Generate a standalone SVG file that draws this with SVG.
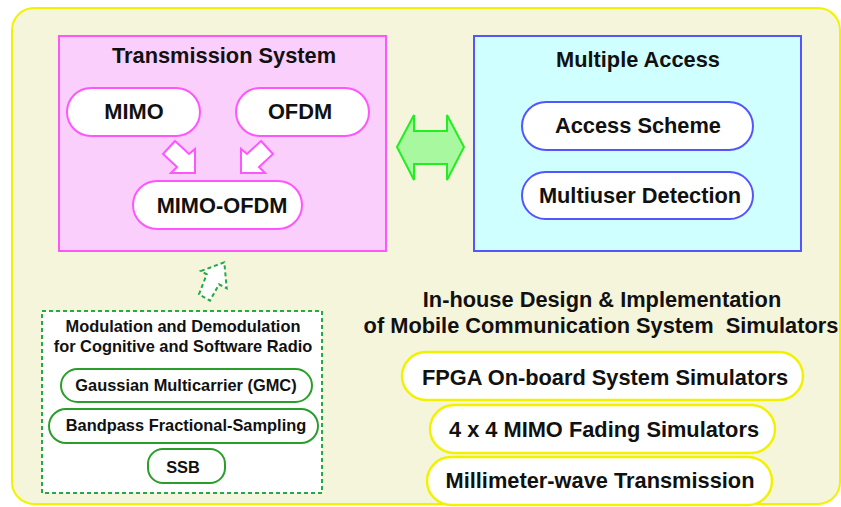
<svg xmlns="http://www.w3.org/2000/svg" width="841" height="507" viewBox="0 0 841 507">
<style>
text{font-family:"Liberation Sans",Arial,Helvetica,sans-serif;font-weight:bold;fill:#111;text-anchor:middle}
.pk{fill:#fff;stroke:#ff55ff;stroke-width:2}
.bl{fill:#fff;stroke:#5555ff;stroke-width:2}
.gr{fill:#fff;stroke:#2a9e2a;stroke-width:2}
.yl{fill:#fff;stroke:#f2f200;stroke-width:2.5}
.t21{font-size:21.8px}
.t16{font-size:16.4px}
</style>
<rect x="12" y="8" width="828" height="496" rx="22" fill="#f5f5dc" stroke="#f2f200" stroke-width="2"/>

<g id="transmission-system">
<rect x="59" y="36" width="327" height="215" fill="#fbcffb" stroke="#ff55ff" stroke-width="2"/>
<text class="t21" x="224" y="63">Transmission System</text>
</g>
<g id="mimo">
<rect class="pk" x="67" y="88" width="133" height="48" rx="24"/>
<text class="t21" x="134" y="119">MIMO</text>
</g>
<g id="ofdm">
<rect class="pk" x="236" y="88" width="133" height="48" rx="24"/>
<text class="t21" x="300" y="119">OFDM</text>
</g>
<g id="mimo-ofdm">
<rect class="pk" x="133" y="181" width="169" height="48" rx="24"/>
<text class="t21" x="222" y="213">MIMO-OFDM</text>
</g>

<g id="multiple-access">
<rect x="474" y="36" width="327" height="215" fill="#d0ffff" stroke="#5555ff" stroke-width="2"/>
<text class="t21" x="638" y="67">Multiple Access</text>
</g>
<g id="access-scheme">
<rect class="bl" x="522" y="102" width="231" height="48" rx="24"/>
<text class="t21" x="638" y="133">Access Scheme</text>
</g>
<g id="multiuser-detection">
<rect class="bl" x="522" y="172" width="231" height="47" rx="23.5"/>
<text class="t21" x="640" y="203">Multiuser Detection</text>
</g>

<g id="modulation">
<rect x="42" y="311" width="280" height="182" fill="#fff" stroke="#22aa44" stroke-width="2" stroke-dasharray="4,3"/>
<text class="t16" x="183" y="332">Modulation and Demodulation</text>
<text class="t16" x="183" y="352">for Cognitive and Software Radio</text>
</g>
<g id="gmc">
<rect class="gr" x="61" y="369" width="251" height="33" rx="16.5"/>
<text class="t16" x="186" y="391">Gaussian Multicarrier (GMC)</text>
</g>
<g id="bandpass">
<rect class="gr" x="49" y="409" width="269" height="34" rx="17"/>
<text class="t16" x="186" y="431">Bandpass Fractional-Sampling</text>
</g>
<g id="ssb">
<rect class="gr" x="148" y="449" width="77" height="34" rx="15"/>
<text class="t16" x="183" y="473">SSB</text>
</g>

<g id="simulators-title">
<text class="t21" x="602" y="307">In-house Design &amp; Implementation</text>
<text class="t21" x="601" y="333" xml:space="preserve">of Mobile Communication System  Simulators</text>
</g>
<g id="fpga">
<rect class="yl" x="402" y="352" width="401" height="48" rx="24"/>
<text class="t21" x="605" y="385">FPGA On-board System Simulators</text>
</g>
<g id="mimo-fading">
<rect class="yl" x="430" y="405" width="345" height="48" rx="24"/>
<text class="t21" x="604" y="437">4 x 4 MIMO Fading Simulators</text>
</g>
<g id="millimeter">
<rect class="yl" x="427" y="457" width="345" height="48" rx="24"/>
<text class="t21" x="600" y="488">Millimeter-wave Transmission</text>
</g>

<g id="connectors">
<polygon points="175,141 189,154 195,149 195,173 171,173 177,167 163,154" fill="#fff" stroke="#ff55ff" stroke-width="2"/>
<polygon points="261,141 247,154 241,149 241,173 265,173 259,167 273,154" fill="#fff" stroke="#ff55ff" stroke-width="2"/>
<polygon points="397,147 414,115 414,131 447,131 447,115 464,147 447,180 447,164 414,164 414,180" fill="#a8f8a0" stroke="#22ee22" stroke-width="2"/>
<polygon points="224.3,262.3 201,271 206.7,274.3 199,294.3 210,300.7 219,284.3 226.7,288.3" fill="#fff" stroke="#22aa44" stroke-width="2" stroke-dasharray="4,3"/>
</g>
</svg>
